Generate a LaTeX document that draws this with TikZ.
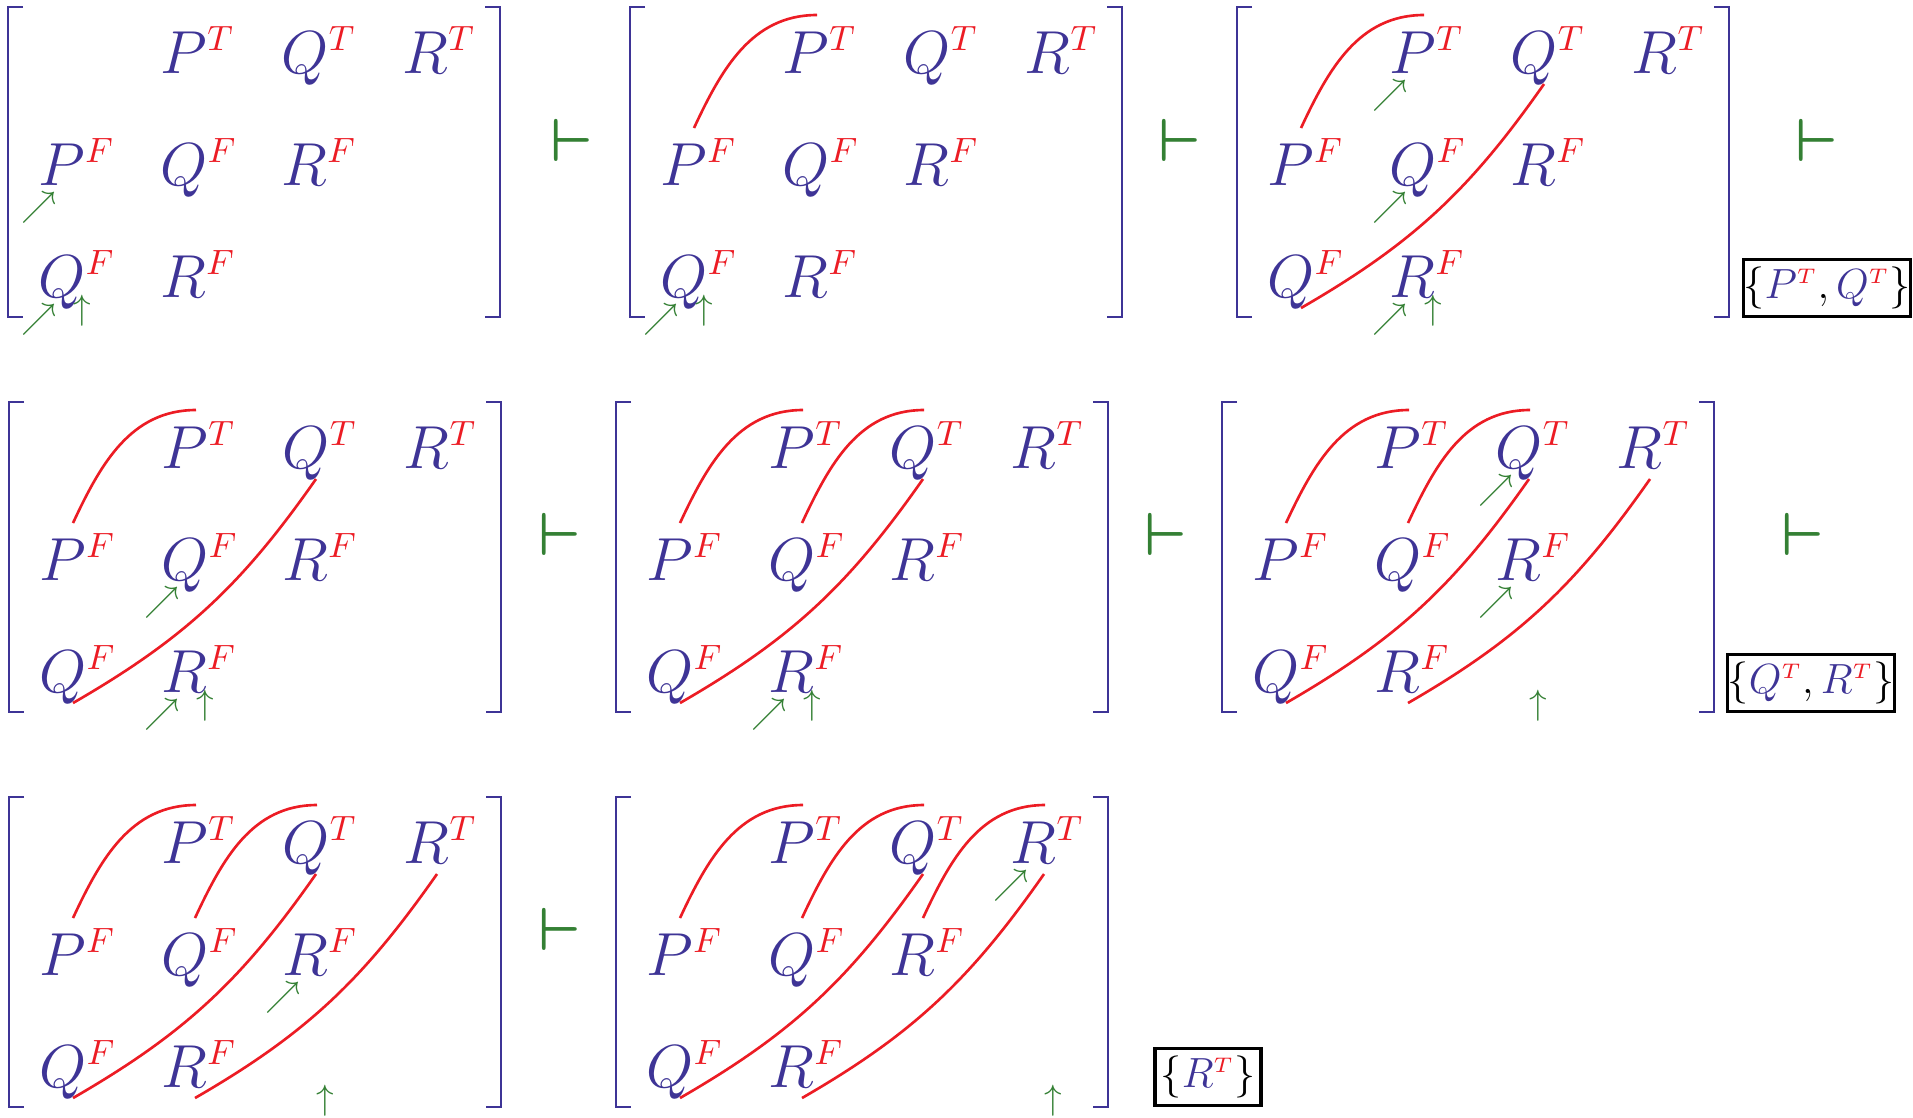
\documentclass[tikz,border=0pt]{standalone}
\usepackage{amsmath,amssymb}
\usepackage{tikz}

\definecolor{litblue}{RGB}{62,52,150}
\definecolor{litred}{RGB}{236,28,36}
\definecolor{stepgreen}{RGB}{52,128,52}

\newcommand{\lit}[2]{\color{litblue}#1^{\scriptscriptstyle\color{litred}#2}}

\begin{document}
\begin{tikzpicture}[
    x=0.01cm, y=-0.01cm,
    entry/.style={anchor=base west, inner sep=0pt, font=\fontsize{17.28}{20}\selectfont},
    brk/.style={draw=litblue, line width=0.55pt},
    link/.style={draw=litred, line width=0.75pt},
    arcup/.style={out=65, in=180},
    arcdown/.style={out=235, in=30},
    fwd/.style={anchor=north east, inner sep=0pt, text=stepgreen, font=\fontsize{10}{12}\selectfont},
    stay/.style={anchor=north, inner sep=0pt, text=stepgreen, font=\fontsize{10}{12}\selectfont},
    yields/.style={inner sep=0pt, text=stepgreen, font=\fontsize{16}{18}\selectfont\boldmath},
    result/.style={draw, line width=0.9pt, inner sep=0pt, minimum height=0.57cm, font=\fontsize{11.5}{13}\selectfont}
]
\useasboundingbox (0,0) rectangle (1913,1117);

% The eight steps: brackets and literals
\foreach \k/\px/\py in {1/8/7, 2/630/7, 3/1237/7, 4/9/402, 5/616/402, 6/1222/402, 7/9/797, 8/616/797} {
  \begin{scope}[shift={(\px,\py)}]
    \draw[brk] (15,0) -- (0,0) -- (0,310) -- (15,310);
    \draw[brk] (477,0) -- (492,0) -- (492,310) -- (477,310);
    \node[entry] (\k-pt) at (152,66) {$\lit PT$};
    \node[entry] (\k-qt) at (273,66) {$\lit QT$};
    \node[entry] (\k-rt) at (394,66) {$\lit RT$};
    \node[entry] (\k-pf) at (30,178) {$\lit PF$};
    \node[entry] (\k-qf) at (152,178) {$\lit QF$};
    \node[entry] (\k-rf) at (273,178) {$\lit RF$};
    \node[entry] (\k-qg) at (30,290) {$\lit QF$};
    \node[entry] (\k-rg) at (152,290) {$\lit RF$};
  \end{scope}
}

% Links: F up to T, T down to F
\foreach \k in {2,...,8}
  \draw[link] ([shift={(34,-57)}]\k-pf.base west) to[arcup] ([shift={(35,-58)}]\k-pt.base west);
\foreach \k in {5,...,8}
  \draw[link] ([shift={(34,-57)}]\k-qf.base west) to[arcup] ([shift={(35,-58)}]\k-qt.base west);
\draw[link] ([shift={(34,-57)}]8-rf.base west) to[arcup] ([shift={(35,-58)}]8-rt.base west);
\foreach \k in {3,...,8}
  \draw[link] ([shift={(34,11)}]\k-qt.base west) to[arcdown] ([shift={(34,11)}]\k-qg.base west);
\foreach \k in {6,7,8}
  \draw[link] ([shift={(34,11)}]\k-rt.base west) to[arcdown] ([shift={(34,11)}]\k-rg.base west);

% Pointers
\node[fwd] (1-a) at ([shift={(19,6)}]1-pf.base west) {$\nearrow$};
\node[fwd] (1-b) at ([shift={(19,6)}]1-qg.base west) {$\nearrow$};
\node[stay] (1-c) at ([shift={(44,-3)}]1-qg.base west) {$\uparrow$};
\node[fwd] (2-b) at ([shift={(19,6)}]2-qg.base west) {$\nearrow$};
\node[stay] (2-c) at ([shift={(44,-3)}]2-qg.base west) {$\uparrow$};
\node[fwd] (3-a) at ([shift={(19,6)}]3-pt.base west) {$\nearrow$};
\node[fwd] (3-b) at ([shift={(19,6)}]3-qf.base west) {$\nearrow$};
\node[fwd] (3-d) at ([shift={(19,6)}]3-rg.base west) {$\nearrow$};
\node[stay] (3-c) at ([shift={(44,-3)}]3-rg.base west) {$\uparrow$};
\node[fwd] (4-b) at ([shift={(19,6)}]4-qf.base west) {$\nearrow$};
\node[fwd] (4-d) at ([shift={(19,6)}]4-rg.base west) {$\nearrow$};
\node[stay] (4-c) at ([shift={(44,-3)}]4-rg.base west) {$\uparrow$};
\node[fwd] (5-d) at ([shift={(19,6)}]5-rg.base west) {$\nearrow$};
\node[stay] (5-c) at ([shift={(44,-3)}]5-rg.base west) {$\uparrow$};
\node[fwd] (6-a) at ([shift={(19,6)}]6-qt.base west) {$\nearrow$};
\node[fwd] (6-b) at ([shift={(19,6)}]6-rf.base west) {$\nearrow$};
\node[stay] (6-c) at ([shift={(164,-3)}]6-rg.base west) {$\uparrow$};
\node[fwd] (7-b) at ([shift={(19,6)}]7-rf.base west) {$\nearrow$};
\node[stay] (7-c) at ([shift={(164,-3)}]7-rg.base west) {$\uparrow$};
\node[fwd] (8-a) at ([shift={(19,6)}]8-rt.base west) {$\nearrow$};
\node[stay] (8-c) at ([shift={(285,-3)}]8-rg.base west) {$\uparrow$};

% Derivation steps
\node[yields] (d1) at (572,140) {$\vdash$};
\node[yields] (d2) at (1180,140) {$\vdash$};
\node[yields] (d3) at (1817,140) {$\vdash$};
\node[yields] (d4) at (560,534) {$\vdash$};
\node[yields] (d5) at (1166,534) {$\vdash$};
\node[yields] (d6) at (1803,534) {$\vdash$};
\node[yields] (d7) at (560,929) {$\vdash$};

% Literals found
\node[result, minimum width=1.67cm] (s1) at (1827,288) {$\{\lit PT\color{black},\lit QT\color{black}\}$};
\node[result, minimum width=1.67cm] (s2) at (1811,683) {$\{\lit QT\color{black},\lit RT\color{black}\}$};
\node[result, minimum width=1.06cm] (s3) at (1208,1077) {$\{\lit RT\color{black}\}$};

\end{tikzpicture}
\end{document}
